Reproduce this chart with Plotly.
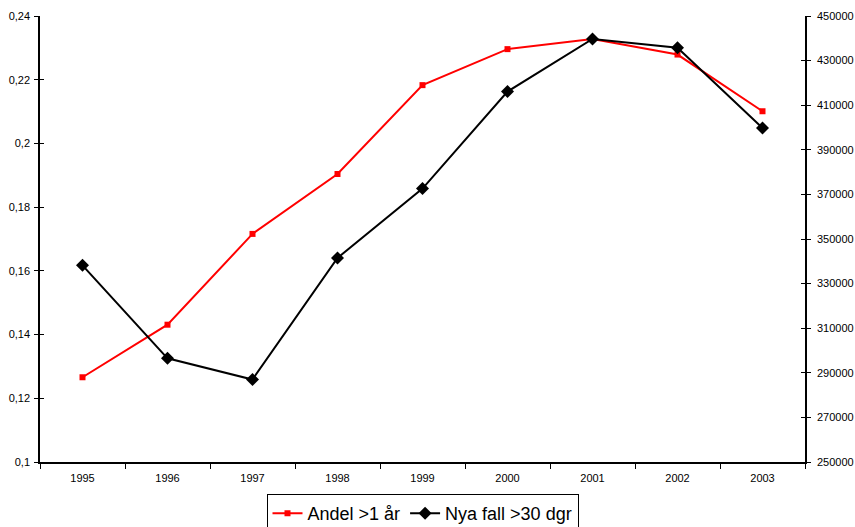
import plotly.graph_objects as go

years = ["1995", "1996", "1997", "1998", "1999", "2000", "2001", "2002", "2003"]
andel = [0.1266, 0.1431, 0.1716, 0.1904, 0.2183, 0.2296, 0.2328, 0.2279, 0.2101]
nya_fall = [338200, 296500, 287000, 341500, 372600, 416100, 439700, 435800, 399800]

left_ticks = [0.10, 0.12, 0.14, 0.16, 0.18, 0.20, 0.22, 0.24]
left_labels = ["0,1", "0,12", "0,14", "0,16", "0,18", "0,2", "0,22", "0,24"]
right_ticks = [250000, 270000, 290000, 310000, 330000, 350000, 370000, 390000, 410000, 430000, 450000]
right_labels = [str(v) for v in right_ticks]

FONT = "Liberation Sans, Arial, sans-serif"

fig = go.Figure()
fig.add_trace(go.Scatter(
    x=years, y=andel, name="Andel >1 år", mode="lines+markers",
    line=dict(color="#ff0000", width=2),
    marker=dict(symbol="square", size=6, color="#ff0000"),
    yaxis="y", xaxis="x",
))
fig.add_trace(go.Scatter(
    x=years, y=nya_fall, name="Nya fall >30 dgr", mode="lines+markers",
    line=dict(color="#000000", width=2),
    marker=dict(symbol="diamond", size=10, color="#000000"),
    yaxis="y2", xaxis="x",
))

fig.update_layout(
    width=855, height=527,
    margin=dict(l=40, r=50, t=16, b=64.5, autoexpand=False),
    paper_bgcolor="white", plot_bgcolor="white",
    font=dict(family=FONT, size=11, color="#000000"),
    showlegend=True,
    legend=dict(
        orientation="h", xref="paper", x=0.5, xanchor="center",
        yref="container", y=1 - 494 / 527, yanchor="top",
        bordercolor="#000000", borderwidth=1,
        font=dict(family=FONT, size=18, color="#000000"),
        itemwidth=30, tracegroupgap=0,
    ),
    xaxis=dict(
        type="category", range=[-0.5, 8.5], automargin=False,
        showline=True, linecolor="#000000", linewidth=1.5,
        ticks="outside", ticklen=5, tickcolor="#000000", tickwidth=1,
        tickson="boundaries", showgrid=False, zeroline=False,
        tickfont=dict(size=11), ticklabelstandoff=5,
    ),
    yaxis=dict(
        range=[0.1, 0.24], tickvals=left_ticks, ticktext=left_labels,
        automargin=False,
        showline=True, linecolor="#000000", linewidth=1.5,
        ticks="outside", ticklen=4, tickcolor="#000000",
        showgrid=False, zeroline=False, tickfont=dict(size=11),
        ticklabelstandoff=2,
    ),
    yaxis2=dict(
        range=[250000, 450000], tickvals=right_ticks, ticktext=right_labels,
        overlaying="y", side="right", automargin=False,
        showline=True, linecolor="#000000", linewidth=1.5,
        ticks="outside", ticklen=4, tickcolor="#000000",
        showgrid=False, zeroline=False, tickfont=dict(size=11),
        ticklabelstandoff=4,
    ),
    yaxis3=dict(
        range=[0.1, 0.24], tickvals=left_ticks, overlaying="y", side="left",
        automargin=False,
        showticklabels=False, showline=False, ticks="inside", ticklen=4,
        tickcolor="#000000", showgrid=False, zeroline=False,
    ),
    yaxis4=dict(
        range=[250000, 450000], tickvals=right_ticks, overlaying="y", side="right",
        automargin=False,
        showticklabels=False, showline=False, ticks="inside", ticklen=4,
        tickcolor="#000000", showgrid=False, zeroline=False,
    ),
)

# invisible traces to activate the inner tick axes
fig.add_trace(go.Scatter(x=[years[0]], y=[None], yaxis="y3", showlegend=False, hoverinfo="skip"))
fig.add_trace(go.Scatter(x=[years[0]], y=[None], yaxis="y4", showlegend=False, hoverinfo="skip"))

fig.write_html("out.html")
